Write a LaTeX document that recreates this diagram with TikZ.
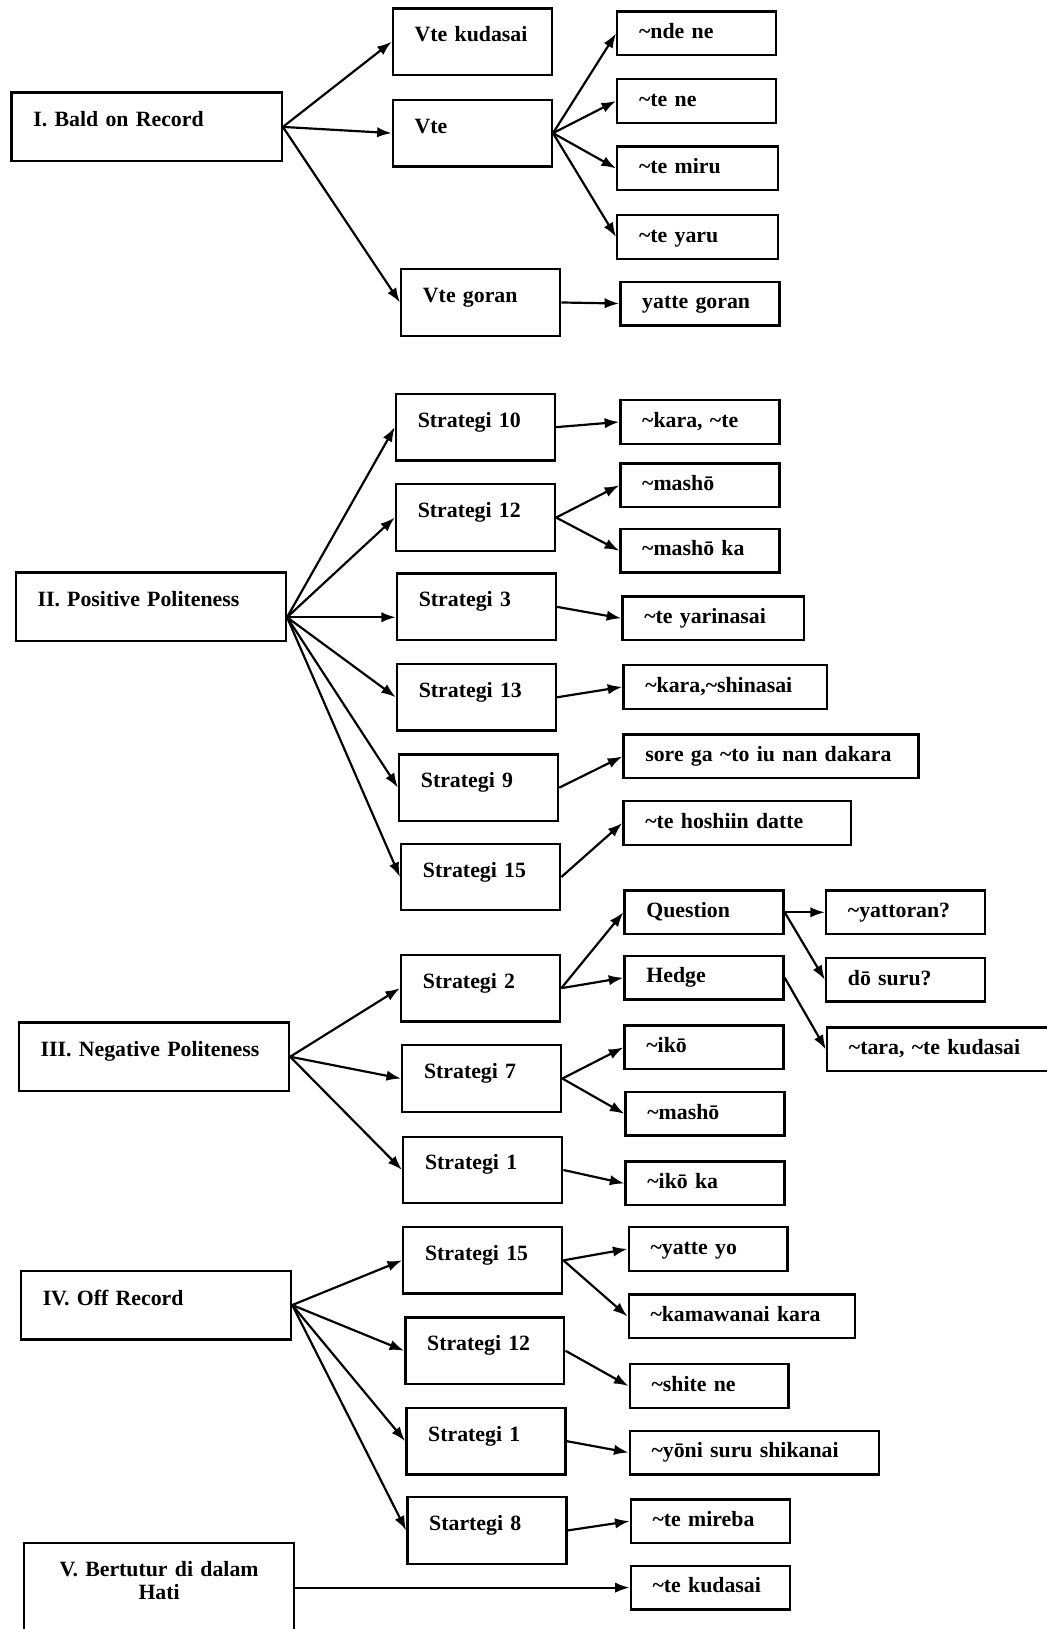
\documentclass[tikz,border=0pt]{standalone}
\usepackage{fontspec}
\setmainfont{Liberation Serif}[WordSpace=0.88]
\usetikzlibrary{arrows.meta}
\begin{document}
\begin{tikzpicture}[
        x=1pt, y=-1pt,
        >={Latex[length=14pt,width=10pt]},
        every node/.style={draw, line width=2.3pt, anchor=north west, inner xsep=21pt, inner ysep=0pt, align=left, font=\bfseries\fontsize{21}{22}\selectfont},
        root/.style={text width=218pt, text height=33pt, text depth=33pt},
        strat/.style={text width=111pt, text height=32pt, text depth=32pt},
        leaf/.style={text width=#1, text height=26pt, text depth=16pt},
        leaf/.default=111pt,
        link/.style={->, line width=2.1pt},
    ]
    \useasboundingbox (0,0) rectangle (1007,1568);

    \node[root](bor) at (10,88) {I. Bald on Record};
    \node[strat](vk) at (377,7) {Vte kudasai};
    \node[strat](vte) at (377,95) {Vte};
    \node[strat](vg) at (385,258) {Vte goran};
    \node[leaf](nde) at (593,10) {\textasciitilde nde ne};
    \node[leaf](tene) at (593,75) {\textasciitilde te ne};
    \node[leaf=113pt](miru) at (593,140) {\textasciitilde te miru};
    \node[leaf=113pt](yaru) at (593,206) {\textasciitilde te yaru};
    \node[leaf](yg) at (596,270) {yatte goran};
    \draw[link] (bor.east) to (vk.west);
    \draw[link] (bor.east) to (vte.west);
    \draw[link] (bor.east) to (vg.west);
    \draw[link] (vte.east) to (nde.west);
    \draw[link] (vte.east) to (tene.west);
    \draw[link] (vte.east) to (miru.west);
    \draw[link] (vte.east) to (yaru.west);
    \draw[link] (vg.east) to (yg.west);

    \node[root](pp) at (14,550) {II. Positive Politeness};
    \node[strat](ps10) at (380,378) {Strategi 10};
    \node[strat](ps12) at (380,465) {Strategi 12};
    \node[strat](ps3) at (381,551) {Strategi 3};
    \node[strat](ps13) at (381,638) {Strategi 13};
    \node[strat](ps9) at (383,725) {Strategi 9};
    \node[strat](ps15) at (385,811) {Strategi 15};
    \node[leaf](karate) at (596,384) {\textasciitilde kara, \textasciitilde te};
    \node[leaf](masho) at (596,445) {\textasciitilde mashō};
    \node[leaf](mashoka) at (596,508) {\textasciitilde mashō ka};
    \node[leaf=133pt](yarinasai) at (598,573) {\textasciitilde te yarinasai};
    \node[leaf=154pt](shinasai) at (599,639) {\textasciitilde kara,\textasciitilde shinasai};
    \node[leaf=242pt](dakara) at (599,706) {sore ga \textasciitilde to iu nan dakara};
    \node[leaf=177pt](datte) at (599,770) {\textasciitilde te hoshiin datte};
    \draw[link] ([yshift=-10pt]pp.east) to (ps10.west);
    \draw[link] ([yshift=-10pt]pp.east) to (ps12.west);
    \draw[link] ([yshift=-10pt]pp.east) to ([yshift=-10pt]ps3.west);
    \draw[link] ([yshift=-10pt]pp.east) to (ps13.west);
    \draw[link] ([yshift=-10pt]pp.east) to (ps9.west);
    \draw[link] ([yshift=-10pt]pp.east) to (ps15.west);
    \draw[link] (ps10.east) to (karate.west);
    \draw[link] (ps12.east) to (masho.west);
    \draw[link] (ps12.east) to (mashoka.west);
    \draw[link] (ps3.east) to (yarinasai.west);
    \draw[link] (ps13.east) to (shinasai.west);
    \draw[link] (ps9.east) to (dakara.west);
    \draw[link] (ps15.east) to (datte.west);

    \node[root](np) at (17,983) {III. Negative Politeness};
    \node[strat](ns2) at (385,918) {Strategi 2};
    \node[strat](ns7) at (386,1005) {Strategi 7};
    \node[strat](ns1) at (387,1093) {Strategi 1};
    \node[leaf](question) at (600,856) {Question};
    \node[leaf](hedge) at (600,919) {Hedge};
    \node[leaf](iko) at (600,986) {\textasciitilde ikō};
    \node[leaf](masho2) at (601,1050) {\textasciitilde mashō};
    \node[leaf](ikoka) at (601,1117) {\textasciitilde ikō ka};
    \node[leaf](yattoran) at (794,856) {\textasciitilde yattoran?};
    \node[leaf](dosuru) at (794,921) {dō suru?};
    \node[leaf=173pt](kudasai) at (795,988) {\textasciitilde tara, \textasciitilde te kudasai};
    \draw[link] (np.east) to (ns2.west);
    \draw[link] (np.east) to (ns7.west);
    \draw[link] (np.east) to (ns1.west);
    \draw[link] (ns2.east) to (question.west);
    \draw[link] (ns2.east) to (hedge.west);
    \draw[link] (question.east) to (yattoran.west);
    \draw[link] (question.east) to (dosuru.west);
    \draw[link] (hedge.east) to (kudasai.west);
    \draw[link] (ns7.east) to (iko.west);
    \draw[link] (ns7.east) to (masho2.west);
    \draw[link] (ns1.east) to (ikoka.west);

    \node[root](orec) at (19,1222) {IV. Off Record};
    \node[strat](os15) at (387,1180) {Strategi 15};
    \node[strat](os12) at (389,1267) {Strategi 12};
    \node[strat](os1) at (390,1354) {Strategi 1};
    \node[strat](os8) at (391,1440) {Startegi 8};
    \node[leaf](yatteyo) at (604,1180) {\textasciitilde yatte yo};
    \node[leaf=176pt](kamawanai) at (604,1245) {\textasciitilde kamawanai kara};
    \node[leaf](shitene) at (605,1312) {\textasciitilde shite ne};
    \node[leaf=198pt](shikanai) at (605,1376) {\textasciitilde yōni suru shikanai};
    \node[leaf](mireba) at (606,1442) {\textasciitilde te mireba};
    \node[leaf](tekudasai) at (606,1506) {\textasciitilde te kudasai};
    \draw[link] (orec.east) to (os15.west);
    \draw[link] (orec.east) to (os12.west);
    \draw[link] (orec.east) to (os1.west);
    \draw[link] (orec.east) to (os8.west);
    \draw[link] (os15.east) to (yatteyo.west);
    \draw[link] (os15.east) to (kamawanai.west);
    \draw[link] (os12.east) to (shitene.west);
    \draw[link] (os1.east) to (shikanai.west);
    \draw[link] (os8.east) to (mireba.west);

    \node[root, align=center, text height=32pt, text depth=70pt](hati) at (22,1484) {V. Bertutur di dalam\\Hati};
    \draw[link] (hati.east |- tekudasai.west) to (tekudasai.west);
\end{tikzpicture}
\end{document}
